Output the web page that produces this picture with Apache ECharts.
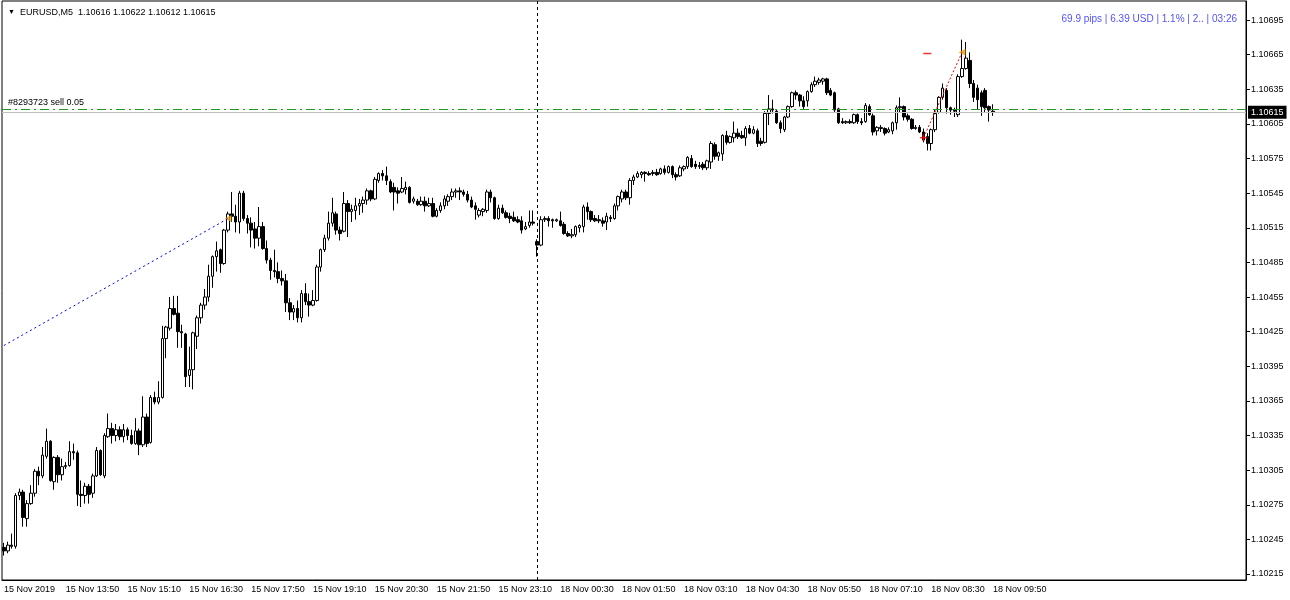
<!DOCTYPE html>
<html>
<head>
<meta charset="utf-8">
<title>EURUSD,M5</title>
<script src="https://cdn.jsdelivr.net/npm/echarts@6/dist/echarts.min.js"></script>
<style>
  html, body { margin: 0; padding: 0; background: #fff; }
  #chart { width: 1290px; height: 600px; }
</style>
</head>
<body>
<div id="chart"></div>
<script>
// M5 candles, 15 Nov 2019 12:30 -> 18 Nov 2019 09:50 (weekend skipped)
const opens = [
  1.10238,1.10235,1.10240,1.10239,1.10283,1.10286,1.10263,1.10276,1.10285,1.10304,1.10300,1.10317,1.10330,1.10295,1.10316,1.10301,
  1.10308,1.10309,1.10321,1.10320,1.10284,1.10283,1.10291,1.10285,1.10300,1.10322,1.10300,1.10334,1.10341,1.10335,1.10340,1.10334,
  1.10340,1.10335,1.10328,1.10339,1.10327,1.10351,1.10329,1.10368,1.10364,1.10368,1.10419,1.10428,1.10445,1.10441,1.10425,1.10423,
  1.10387,1.10392,1.10421,1.10437,1.10448,1.10455,1.10473,1.10490,1.10496,1.10484,1.10513,1.10527,1.10525,1.10520,1.10545,1.10523,
  1.10519,1.10514,1.10506,1.10516,1.10497,1.10487,1.10478,1.10477,1.10471,1.10469,1.10450,1.10442,1.10445,1.10437,1.10458,1.10451,
  1.10448,1.10452,1.10481,1.10496,1.10506,1.10519,1.10527,1.10513,1.10512,1.10536,1.10529,1.10530,1.10534,1.10536,1.10539,1.10547,
  1.10540,1.10556,1.10562,1.10560,1.10555,1.10550,1.10547,1.10546,1.10548,1.10550,1.10538,1.10538,1.10535,1.10538,1.10534,1.10536,
  1.10525,1.10530,1.10534,1.10538,1.10542,1.10546,1.10547,1.10546,1.10544,1.10539,1.10534,1.10526,1.10529,1.10530,1.10546,1.10541,
  1.10523,1.10532,1.10528,1.10525,1.10524,1.10522,1.10521,1.10514,1.10517,1.10520,1.10503,1.10500,1.10522,1.10523,1.10522,1.10521,
  1.10521,1.10518,1.10510,1.10508,1.10509,1.10515,1.10516,1.10533,1.10529,1.10523,1.10522,1.10521,1.10520,1.10524,1.10523,1.10534,
  1.10540,1.10546,1.10541,1.10556,1.10559,1.10561,1.10563,1.10562,1.10562,1.10563,1.10562,1.10566,1.10563,1.10568,1.10561,1.10560,
  1.10566,1.10568,1.10575,1.10570,1.10568,1.10570,1.10567,1.10572,1.10587,1.10577,1.10579,1.10595,1.10589,1.10593,1.10597,1.10595,
  1.10593,1.10601,1.10597,1.10599,1.10590,1.10589,1.10614,1.10618,1.10616,1.10606,1.10600,1.10611,1.10620,1.10632,1.10630,1.10625,
  1.10625,1.10633,1.10639,1.10641,1.10642,1.10644,1.10634,1.10632,1.10618,1.10607,1.10606,1.10607,1.10606,1.10613,1.10607,1.10607,
  1.10620,1.10612,1.10599,1.10601,1.10601,1.10598,1.10599,1.10606,1.10619,1.10620,1.10612,1.10609,1.10601,1.10602,1.10598,1.10594,
  1.10588,1.10600,1.10615,1.10628,1.10634,1.10619,1.10617,1.10613,1.10646,1.10653,1.10660,1.10640,1.10636,1.10632,1.10634,1.10620,
  1.10616
];
const closes = [
  1.10235,1.10240,1.10239,1.10283,1.10286,1.10264,1.10276,1.10285,1.10304,1.10300,1.10318,1.10330,1.10296,1.10316,1.10301,1.10308,
  1.10309,1.10321,1.10320,1.10284,1.10283,1.10291,1.10284,1.10300,1.10322,1.10301,1.10335,1.10341,1.10335,1.10340,1.10334,1.10340,
  1.10335,1.10328,1.10339,1.10327,1.10351,1.10328,1.10368,1.10364,1.10368,1.10419,1.10429,1.10445,1.10440,1.10425,1.10424,1.10386,
  1.10392,1.10424,1.10437,1.10448,1.10455,1.10473,1.10490,1.10495,1.10484,1.10513,1.10527,1.10525,1.10520,1.10545,1.10523,1.10519,
  1.10513,1.10506,1.10516,1.10497,1.10487,1.10478,1.10477,1.10471,1.10469,1.10450,1.10442,1.10445,1.10437,1.10458,1.10451,1.10448,
  1.10452,1.10481,1.10496,1.10506,1.10519,1.10528,1.10513,1.10510,1.10536,1.10529,1.10531,1.10534,1.10536,1.10539,1.10547,1.10540,
  1.10557,1.10562,1.10560,1.10556,1.10546,1.10546,1.10545,1.10549,1.10550,1.10537,1.10540,1.10535,1.10538,1.10534,1.10536,1.10525,
  1.10530,1.10534,1.10540,1.10542,1.10546,1.10547,1.10546,1.10544,1.10539,1.10533,1.10531,1.10530,1.10531,1.10546,1.10541,1.10523,
  1.10532,1.10528,1.10524,1.10523,1.10521,1.10520,1.10513,1.10516,1.10520,1.10519,1.10500,1.10522,1.10523,1.10521,1.10521,1.10522,
  1.10517,1.10510,1.10508,1.10509,1.10516,1.10517,1.10533,1.10529,1.10522,1.10521,1.10521,1.10519,1.10525,1.10523,1.10534,1.10542,
  1.10546,1.10541,1.10556,1.10559,1.10562,1.10563,1.10562,1.10561,1.10563,1.10561,1.10566,1.10563,1.10568,1.10561,1.10559,1.10567,
  1.10568,1.10576,1.10568,1.10568,1.10569,1.10567,1.10573,1.10588,1.10577,1.10580,1.10595,1.10589,1.10594,1.10597,1.10594,1.10593,
  1.10601,1.10597,1.10600,1.10588,1.10588,1.10614,1.10618,1.10617,1.10606,1.10601,1.10611,1.10620,1.10632,1.10630,1.10625,1.10620,
  1.10633,1.10639,1.10642,1.10643,1.10644,1.10632,1.10630,1.10617,1.10606,1.10606,1.10607,1.10606,1.10613,1.10607,1.10606,1.10621,
  1.10613,1.10598,1.10602,1.10602,1.10597,1.10600,1.10606,1.10619,1.10620,1.10611,1.10609,1.10601,1.10602,1.10598,1.10591,1.10588,
  1.10600,1.10614,1.10628,1.10636,1.10619,1.10617,1.10616,1.10646,1.10653,1.10662,1.10640,1.10628,1.10626,1.10620,1.10619,1.10617,
  1.10615
];
const lows = [
  1.10231,1.10233,1.10237,1.10237,1.10279,1.10256,1.10256,1.10275,1.10282,1.10292,1.10298,1.10315,1.10295,1.10288,1.10294,1.10296,
  1.10306,1.10308,1.10314,1.10274,1.10273,1.10276,1.10276,1.10281,1.10299,1.10300,1.10298,1.10333,1.10328,1.10330,1.10331,1.10329,
  1.10331,1.10327,1.10327,1.10318,1.10325,1.10325,1.10328,1.10362,1.10362,1.10367,1.10402,1.10426,1.10439,1.10411,1.10411,1.10377,
  1.10377,1.10375,1.10410,1.10432,1.10444,1.10451,1.10463,1.10477,1.10476,1.10483,1.10511,1.10520,1.10511,1.10510,1.10521,1.10510,
  1.10498,1.10497,1.10499,1.10496,1.10484,1.10470,1.10472,1.10467,1.10465,1.10442,1.10435,1.10435,1.10433,1.10433,1.10448,1.10438,
  1.10447,1.10451,1.10477,1.10494,1.10504,1.10516,1.10509,1.10504,1.10511,1.10507,1.10520,1.10522,1.10526,1.10528,1.10535,1.10538,
  1.10539,1.10554,1.10556,1.10552,1.10545,1.10530,1.10536,1.10545,1.10544,1.10536,1.10536,1.10534,1.10534,1.10529,1.10533,1.10524,
  1.10524,1.10528,1.10531,1.10534,1.10539,1.10541,1.10539,1.10542,1.10537,1.10532,1.10522,1.10524,1.10525,1.10528,1.10537,1.10522,
  1.10522,1.10527,1.10523,1.10519,1.10520,1.10519,1.10510,1.10513,1.10515,1.10517,1.10490,1.10499,1.10520,1.10516,1.10515,1.10520,
  1.10516,1.10509,1.10507,1.10506,1.10507,1.10511,1.10511,1.10522,1.10520,1.10520,1.10519,1.10516,1.10513,1.10520,1.10522,1.10530,
  1.10537,1.10539,1.10535,1.10552,1.10558,1.10558,1.10555,1.10560,1.10560,1.10560,1.10561,1.10561,1.10562,1.10558,1.10556,1.10559,
  1.10564,1.10566,1.10567,1.10566,1.10566,1.10565,1.10565,1.10566,1.10574,1.10573,1.10573,1.10587,1.10588,1.10589,1.10592,1.10592,
  1.10586,1.10596,1.10596,1.10585,1.10586,1.10588,1.10604,1.10614,1.10605,1.10597,1.10598,1.10610,1.10619,1.10626,1.10620,1.10618,
  1.10620,1.10632,1.10637,1.10639,1.10639,1.10630,1.10629,1.10615,1.10605,1.10605,1.10605,1.10605,1.10605,1.10605,1.10604,1.10606,
  1.10612,1.10595,1.10595,1.10598,1.10595,1.10597,1.10596,1.10600,1.10615,1.10608,1.10607,1.10600,1.10600,1.10597,1.10589,1.10582,
  1.10582,1.10598,1.10614,1.10626,1.10614,1.10613,1.10611,1.10611,1.10645,1.10652,1.10636,1.10624,1.10617,1.10612,1.10615,1.10607,
  1.10612
];
const highs = [
  1.10242,1.10243,1.10250,1.10285,1.10289,1.10288,1.10279,1.10292,1.10306,1.10308,1.10325,1.10341,1.10331,1.10317,1.10318,1.10315,
  1.10312,1.10330,1.10328,1.10322,1.10296,1.10294,1.10293,1.10302,1.10325,1.10323,1.10337,1.10354,1.10346,1.10345,1.10343,1.10345,
  1.10342,1.10340,1.10350,1.10341,1.10369,1.10354,1.10370,1.10373,1.10382,1.10430,1.10430,1.10455,1.10456,1.10456,1.10431,1.10424,
  1.10412,1.10425,1.10439,1.10450,1.10462,1.10483,1.10491,1.10503,1.10497,1.10514,1.10529,1.10546,1.10535,1.10547,1.10547,1.10526,
  1.10524,1.10520,1.10533,1.10520,1.10504,1.10489,1.10496,1.10485,1.10478,1.10475,1.10454,1.10448,1.10452,1.10461,1.10467,1.10458,
  1.10461,1.10483,1.10497,1.10509,1.10529,1.10541,1.10529,1.10516,1.10546,1.10539,1.10535,1.10541,1.10540,1.10542,1.10549,1.10548,
  1.10559,1.10563,1.10565,1.10568,1.10557,1.10554,1.10550,1.10559,1.10555,1.10551,1.10542,1.10540,1.10542,1.10542,1.10541,1.10541,
  1.10532,1.10537,1.10543,1.10544,1.10549,1.10549,1.10550,1.10548,1.10547,1.10542,1.10537,1.10532,1.10532,1.10548,1.10548,1.10542,
  1.10535,1.10535,1.10530,1.10528,1.10529,1.10525,1.10525,1.10520,1.10530,1.10530,1.10505,1.10525,1.10525,1.10525,1.10523,1.10523,
  1.10529,1.10520,1.10512,1.10514,1.10517,1.10518,1.10535,1.10537,1.10530,1.10526,1.10526,1.10524,1.10528,1.10526,1.10536,1.10543,
  1.10548,1.10548,1.10558,1.10561,1.10564,1.10564,1.10564,1.10564,1.10565,1.10566,1.10567,1.10569,1.10569,1.10569,1.10563,1.10569,
  1.10569,1.10577,1.10578,1.10573,1.10572,1.10572,1.10574,1.10590,1.10589,1.10581,1.10596,1.10599,1.10595,1.10607,1.10601,1.10599,
  1.10603,1.10604,1.10603,1.10601,1.10593,1.10616,1.10630,1.10626,1.10617,1.10608,1.10612,1.10621,1.10633,1.10634,1.10631,1.10629,
  1.10634,1.10641,1.10646,1.10645,1.10645,1.10645,1.10636,1.10633,1.10619,1.10610,1.10608,1.10609,1.10614,1.10614,1.10610,1.10623,
  1.10622,1.10614,1.10603,1.10604,1.10602,1.10602,1.10607,1.10621,1.10628,1.10621,1.10614,1.10610,1.10604,1.10604,1.10601,1.10597,
  1.10601,1.10617,1.10629,1.10640,1.10636,1.10620,1.10619,1.10648,1.10678,1.10676,1.10667,1.10643,1.10639,1.10634,1.10636,1.10621,
  1.10622
];

// time axis labels, one every 16 bars (80 min)
const xTickLabels = [
  '15 Nov 2019', '15 Nov 13:50', '15 Nov 15:10', '15 Nov 16:30', '15 Nov 17:50', '15 Nov 19:10',
  '15 Nov 20:30', '15 Nov 21:50', '15 Nov 23:10', '18 Nov 00:30', '18 Nov 01:50', '18 Nov 03:10',
  '18 Nov 04:30', '18 Nov 05:50', '18 Nov 07:10', '18 Nov 08:30', '18 Nov 09:50'
];
const labelStep = 16;

// price scale labels
const yTicks = [
  1.10215, 1.10245, 1.10275, 1.10305, 1.10335, 1.10365, 1.10395, 1.10425, 1.10455,
  1.10485, 1.10515, 1.10545, 1.10575, 1.10605, 1.10635, 1.10665, 1.10695
];

// order / trade history
const orderPrice = 1.10618;
const orderText = '#8293723 sell 0.05';
const bidPrice = 1.10615;
const daySeparatorBar = 138;          // first bar of 18 Nov
const blueTradeBars = [0, 58];
const blueTradePrices = [1.10413, 1.10523];
const redTradeBars = [238, 248];
const redTradePrices = [1.10593, 1.10667];
const redStopBar = 239;
const redStopPrice = 1.10666;
const infoText = '69.9 pips | 6.39 USD | 1.1% | 2.. | 03:26';

const FONT = '"Liberation Sans", Arial, sans-serif';
const padBars = 65;   // chart shift on the right

const categories = [];
for (let i = 0; i < opens.length + padBars; i++) categories.push(i);

const candleData = opens.map((o, i) => [o, closes[i], lows[i], highs[i]]);

const last = opens.length - 1;
const titleText = '{a|▼}  EURUSD,M5  ' + [opens[last], highs[last], lows[last], closes[last]]
  .map(v => v.toFixed(5)).join(' ');

const showLabel = (index) => index % labelStep === 0 && index / labelStep < xTickLabels.length;

const chart = echarts.init(document.getElementById('chart'));

chart.setOption({
  animation: false,
  backgroundColor: '#ffffff',
  title: [
    {
      text: titleText,
      left: 3,
      top: 3,
      textStyle: {
        fontFamily: FONT, fontSize: 9, fontWeight: 'normal', color: '#000',
        rich: { a: { fontSize: 7, color: '#000' } }
      }
    },
    {
      text: infoText,
      right: 48,
      top: 9,
      textStyle: { fontFamily: FONT, fontSize: 10, fontWeight: 'normal', color: '#5252ff' }
    }
  ],
  grid: {
    left: 2,
    right: 44,
    top: 1,
    bottom: 20,
    show: true,
    borderColor: '#000',
    borderWidth: 1,
    backgroundColor: '#fff'
  },
  xAxis: {
    type: 'category',
    data: categories,
    boundaryGap: true,
    axisLine: { lineStyle: { color: '#000' } },
    axisTick: {
      alignWithLabel: true,
      interval: showLabel,
      length: 4,
      lineStyle: { color: '#000' }
    },
    axisLabel: {
      interval: showLabel,
      formatter: (v, i) => xTickLabels[i / labelStep],
      align: 'left',
      margin: 5,
      fontFamily: FONT,
      fontSize: 9,
      color: '#000'
    },
    splitLine: { show: false }
  },
  yAxis: {
    type: 'value',
    position: 'right',
    min: 1.102098,
    max: 1.107115,
    scale: true,
    axisLine: { show: true, lineStyle: { color: '#000' } },
    axisTick: { show: true, length: 4, customValues: yTicks, lineStyle: { color: '#000' } },
    axisLabel: {
      customValues: yTicks,
      formatter: v => v.toFixed(5),
      margin: 5,
      fontFamily: FONT,
      fontSize: 9,
      color: '#000'
    },
    splitLine: { show: false }
  },
  series: [
    {
      name: 'EURUSD',
      type: 'candlestick',
      data: candleData,
      barWidth: 3,
      itemStyle: {
        color: '#ffffff',
        color0: '#000000',
        borderColor: '#000000',
        borderColor0: '#000000',
        borderWidth: 1
      },
      markLine: {
        silent: true,
        symbol: ['none', 'none'],
        label: { show: false },
        data: [
          {
            xAxis: daySeparatorBar,
            lineStyle: { color: '#000', type: [3, 3], width: 1 }
          }
        ]
      }
    },
    {
      name: 'blue trade',
      type: 'line',
      data: blueTradeBars.map((b, i) => [b, blueTradePrices[i]]),
      symbol: 'none',
      lineStyle: { color: '#0000ff', type: [2, 3], width: 1 },
      // open order level and bid line (precision, otherwise values get rounded to 2 decimals)
      markLine: {
        silent: true,
        precision: 5,
        symbol: ['none', 'none'],
        data: [
          {
            yAxis: orderPrice,
            lineStyle: { color: '#1f9a1f', type: [9, 4, 2, 4], width: 1, opacity: 1 },
            label: {
              show: true,
              position: 'insideStartTop',
              formatter: orderText,
              distance: 2,
              padding: [0, 0, 0, 4],
              fontFamily: FONT,
              fontSize: 9,
              color: '#000'
            }
          },
          {
            yAxis: bidPrice,
            lineStyle: { color: '#c0c0c0', type: 'solid', width: 1, opacity: 1 },
            label: {
              show: true,
              position: 'end',
              distance: 2,
              formatter: bidPrice.toFixed(5),
              backgroundColor: '#000',
              color: '#fff',
              padding: [2, 3, 2, 3],
              fontFamily: FONT,
              fontSize: 9
            }
          }
        ]
      }
    },
    {
      name: 'red trade',
      type: 'line',
      data: redTradeBars.map((b, i) => [b, redTradePrices[i]]),
      symbol: 'none',
      lineStyle: { color: '#ff0000', type: [2, 2], width: 1 }
    },
    {
      name: 'close arrows',
      type: 'scatter',
      data: [
        [blueTradeBars[1], blueTradePrices[1]],
        [redTradeBars[1], redTradePrices[1]]
      ],
      symbol: 'triangle',
      symbolRotate: 90,
      symbolSize: 7,
      itemStyle: { color: '#e8a317' }
    },
    {
      name: 'open mark',
      type: 'scatter',
      data: [[redTradeBars[0], redTradePrices[0]]],
      symbol: 'path://M2,0h1v5h-1z M0,2h5v1h-5z',
      symbolSize: 7,
      itemStyle: { color: '#ff0000' }
    },
    {
      name: 'stop mark',
      type: 'scatter',
      data: [[redStopBar, redStopPrice]],
      symbol: 'rect',
      symbolSize: [8, 1.5],
      itemStyle: { color: '#ff0000' }
    }
  ]
});
</script>
</body>
</html>
